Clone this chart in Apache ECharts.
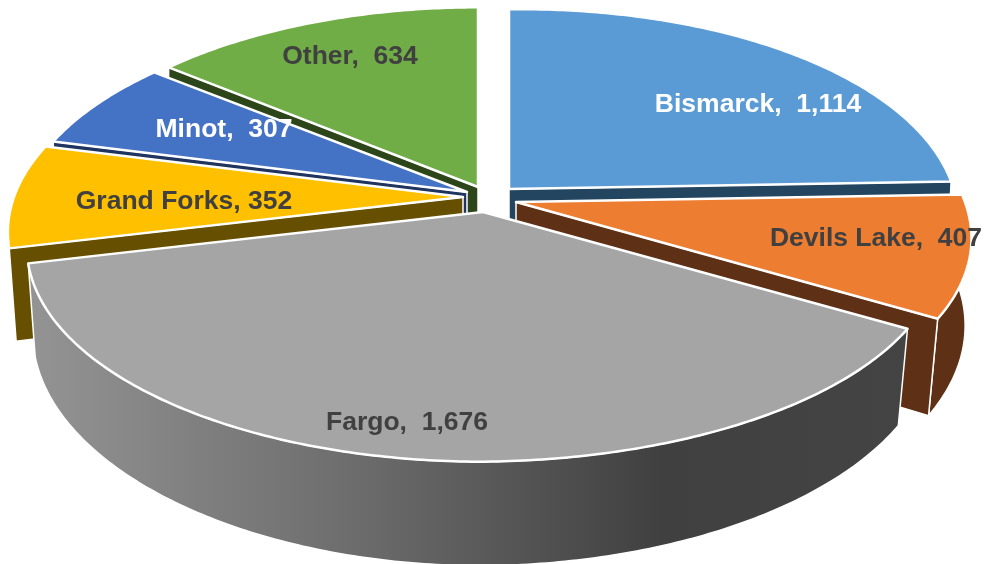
<!DOCTYPE html>
<html>
<head>
<meta charset="utf-8">
<style>
  html, body { margin: 0; padding: 0; background: #fff; overflow: hidden; }
  #chart-container { width: 986px; height: 564px; }
</style>
<script src="https://cdn.jsdelivr.net/npm/echarts@6/dist/echarts.min.js"></script>
</head>
<body>
<div id="chart-container"></div>
<script>
var categories = ['Bismarck', 'Devils Lake', 'Fargo', 'Grand Forks', 'Minot', 'Other'];
var cityValues = [1114, 407, 1676, 352, 307, 634];

// looks of the slices, in the same order as the data
var topColors = ['#5b9bd5', '#ed7d31', '#a5a5a5', '#ffc000', '#4472c4', '#70ad47'];
var sideColors = ['#234560', '#5e3116', '#404040', '#665000', '#1f3560', '#2c4619'];
var labelColors = ['#ffffff', '#404040', '#404040', '#404040', '#ffffff', '#404040'];
var labelGaps = [',  ', ',  ', ',  ', ', ', ',  ', ',  '];
// where each exploded slice has its tip, its width, and where its label sits
var sliceTips = [[509, 189], [516, 202], [483, 212], [463, 197], [467, 192], [478, 187]];
var sliceWidths = [443, 447, 450, 449, 445, 440];
var labelSpots = [[758, 105], [876, 239], [407, 423], [184, 202], [224, 130], [350, 57]];
// back slices are painted first so the front ones overlap them
var paintOrder = [5, 0, 4, 3, 1, 2];

var total = cityValues.reduce(function (a, b) { return a + b; }, 0);

var depth = 90;
var sliceHeight = 209;
var tilt = 0.163; // perspective strength

function project(i, deg, bottom) {
  var t = deg * Math.PI / 180;
  var z = Math.cos(t);
  var x = Math.sin(t);
  var s = 1 / (1 + tilt * z);
  var tip = sliceTips[i];
  var dx = sliceWidths[i] * x * s;
  var dy = -sliceHeight * z * s;
  // the right side of the original sits a little higher and wider
  if (x > 0) {
    dy -= 5 * x;
    dx *= 1 + 0.03 * Math.max(0, -z);
  }
  if (bottom) {
    return [tip[0] + dx * (0.99 + 0.022 * z), tip[1] + dy + depth * (1 + 0.8 * (s - 1))];
  }
  return [tip[0] + dx, tip[1] + dy];
}

function arcPoints(i, a0, a1, bottom) {
  var pts = [];
  var n = Math.max(8, Math.round((a1 - a0) * 1.5));
  for (var k = 0; k <= n; k++) {
    pts.push(project(i, a0 + (a1 - a0) * k / n, bottom));
  }
  return pts;
}

function wallFill(i) {
  if (i !== 2) return sideColors[i];
  return new echarts.graphic.LinearGradient(0, 0, 1, 0, [
    { offset: 0, color: '#949494' },
    { offset: 0.35, color: '#6f6f6f' },
    { offset: 0.72, color: '#404040' },
    { offset: 1, color: '#444444' }
  ]);
}

function poly(points, fill, z2, lineWidth) {
  return {
    type: 'polygon',
    z2: z2,
    shape: { points: points },
    style: { fill: fill, stroke: '#ffffff', lineWidth: lineWidth, lineJoin: 'round' }
  };
}

function cutFace(i, deg, z2) {
  var tip = sliceTips[i];
  return poly(
    [tip, project(i, deg, false), project(i, deg, true), [tip[0], tip[1] + depth]],
    sideColors[i], z2, 1.5
  );
}

var renderSlice = function (params, api) {
  var i = params.dataIndex;
  var before = 0;
  for (var k = 0; k < i; k++) before += cityValues[k];
  var a0 = before / total * 360;
  var a1 = a0 + api.value(0) / total * 360;
  var base = paintOrder.indexOf(i) * 10 + 1;
  var children = [];

  // outer wall, front part only
  var w0 = Math.max(a0, 90);
  var w1 = Math.min(a1, 257);
  if (w1 > w0) {
    var wallTop = arcPoints(i, w0, w1, false);
    var wallLow = arcPoints(i, w0, w1, true).reverse();
    children.push(poly(wallTop.concat(wallLow), wallFill(i), base, 1.5));
  }
  // only the cut faces turned towards the viewer
  if (a1 < 180) children.push(cutFace(i, a1, base + 1));
  if (a0 > 180) children.push(cutFace(i, a0, base + 1));

  children.push(poly([sliceTips[i]].concat(arcPoints(i, a0, a1, false)), topColors[i], base + 2, 2.5));
  children.push({
    type: 'text',
    z2: 200,
    style: {
      x: labelSpots[i][0],
      y: labelSpots[i][1],
      text: categories[i] + labelGaps[i] + api.value(0).toLocaleString('en-US'),
      fill: labelColors[i],
      font: 'bold 26.5px "Liberation Sans", Arial, sans-serif',
      align: 'center',
      verticalAlign: 'middle'
    }
  });
  return { type: 'group', children: children };
};

var dom = document.getElementById('chart-container');
var myChart = echarts.init(dom, null, { renderer: 'canvas' });

var option = {
  animation: false,
  backgroundColor: '#ffffff',
  series: [
    {
      type: 'custom',
      coordinateSystem: 'none',
      renderItem: renderSlice,
      data: cityValues.map(function (v, i) {
        return { name: categories[i], value: [v] };
      })
    }
  ]
};

myChart.setOption(option);
window.addEventListener('resize', myChart.resize);
</script>
</body>
</html>
